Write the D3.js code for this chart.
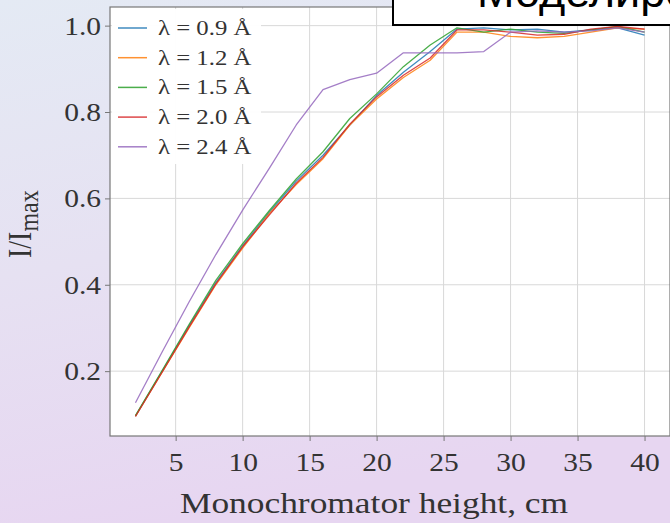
<!DOCTYPE html>
<html>
<head>
<meta charset="utf-8">
<script src="https://cdn.jsdelivr.net/npm/d3@7"></script>
<style>
  html, body { margin: 0; padding: 0; overflow: hidden; }
  svg { display: block; }
</style>
</head>
<body>
<div id="chart"></div>
<script>
// ---------------- data ----------------
const heights = [2, 4, 6, 8, 10, 12, 14, 16, 18, 20, 22, 24, 26, 28, 30, 32, 34, 36, 38, 40];
const seriesLabels = ["λ = 0.9 Å", "λ = 1.2 Å", "λ = 1.5 Å", "λ = 2.0 Å", "λ = 2.4 Å"];
const seriesColors = ["#1f77b4", "#ff7f0e", "#2ca02c", "#d62728", "#9467bd"];
const lambda09 = [0.096, 0.200, 0.305, 0.405, 0.490, 0.568, 0.640, 0.700, 0.770, 0.838, 0.892, 0.940, 0.992, 0.995, 0.990, 0.992, 0.985, 0.990, 0.995, 0.978];
const lambda12 = [0.096, 0.198, 0.300, 0.400, 0.485, 0.565, 0.632, 0.692, 0.770, 0.830, 0.880, 0.920, 0.985, 0.985, 0.975, 0.972, 0.975, 0.985, 0.995, 0.992];
const lambda15 = [0.097, 0.202, 0.308, 0.410, 0.495, 0.572, 0.645, 0.708, 0.785, 0.842, 0.905, 0.955, 0.995, 0.985, 0.992, 0.985, 0.982, 0.990, 0.998, 0.985];
const lambda20 = [0.095, 0.198, 0.302, 0.402, 0.488, 0.562, 0.635, 0.695, 0.772, 0.835, 0.885, 0.925, 0.990, 0.990, 0.985, 0.978, 0.980, 0.992, 0.998, 0.992];
const lambda24 = [0.127, 0.245, 0.360, 0.470, 0.573, 0.670, 0.770, 0.852, 0.875, 0.890, 0.937, 0.937, 0.937, 0.940, 0.985, 0.988, 0.985, 0.988, 0.995, 0.985];
const xTicks = [5, 10, 15, 20, 25, 30, 35, 40];
const yTicks = [0.2, 0.4, 0.6, 0.8, 1.0];
const xLabel = "Monochromator height, cm";
const titleText = "Моделирование";

const allSeries = [lambda09, lambda12, lambda15, lambda20, lambda24];

// ---------------- layout ----------------
const W = 670, H = 523;
const plot = { left: 110, right: 670, top: 7, bottom: 436 };
const SX = 1.18; // horizontal stretch of the source image

const svg = d3.select("#chart").append("svg")
  .attr("width", W).attr("height", H);

const defs = svg.append("defs");
const grad = defs.append("linearGradient").attr("id", "bg")
  .attr("x1", "0").attr("y1", "0").attr("x2", "0.25").attr("y2", "1");
grad.append("stop").attr("offset", "0").attr("stop-color", "#e4eaf4");
grad.append("stop").attr("offset", "0.5").attr("stop-color", "#e6e1f2");
grad.append("stop").attr("offset", "1").attr("stop-color", "#e7d6f1");
svg.append("rect").attr("width", W).attr("height", H).attr("fill", "url(#bg)");

// scales with matplotlib-like 5% margins
function padded(ext) { const r = ext[1] - ext[0]; return [ext[0] - 0.05 * r, ext[1] + 0.05 * r]; }
const xDom = padded(d3.extent(heights));
const yDom = padded(d3.extent(allSeries.flat()));
const x = d3.scaleLinear().domain(xDom).range([plot.left, plot.right]);
const y = d3.scaleLinear().domain(yDom).range([plot.bottom, plot.top]);

// plot background
svg.append("rect").attr("x", plot.left).attr("y", plot.top)
  .attr("width", plot.right - plot.left).attr("height", plot.bottom - plot.top)
  .attr("fill", "#ffffff");

// grid
const grid = svg.append("g");
grid.selectAll("line.gx").data(xTicks).join("line")
  .attr("x1", d => x(d)).attr("x2", d => x(d))
  .attr("y1", plot.top).attr("y2", plot.bottom)
  .attr("stroke", "#d8d8d8").attr("stroke-width", 1);
grid.selectAll("line.gy").data(yTicks).join("line")
  .attr("y1", d => y(d)).attr("y2", d => y(d))
  .attr("x1", plot.left).attr("x2", plot.right)
  .attr("stroke", "#d8d8d8").attr("stroke-width", 1);

// lines
const line = d3.line().x((d, i) => x(heights[i])).y(d => y(d));
svg.append("g").selectAll("path").data(allSeries).join("path")
  .attr("d", d => line(d))
  .attr("fill", "none")
  .attr("stroke", (d, i) => seriesColors[i])
  .attr("stroke-width", 1.3)
  .attr("stroke-opacity", 0.85)
  .attr("stroke-linejoin", "round");

// spines
svg.append("rect").attr("x", plot.left).attr("y", plot.top)
  .attr("width", plot.right - plot.left).attr("height", plot.bottom - plot.top)
  .attr("fill", "none").attr("stroke", "#777").attr("stroke-width", 1.2);

// axes
const fontSerif = "'Liberation Serif', 'Times New Roman', serif";
const xAxis = svg.append("g").attr("transform", `translate(0,${plot.bottom})`)
  .call(d3.axisBottom(x).tickValues(xTicks).tickSize(5).tickPadding(6).tickFormat(d3.format("d")));
const yAxis = svg.append("g").attr("transform", `translate(${plot.left},0)`)
  .call(d3.axisLeft(y).tickValues(yTicks).tickSize(5).tickPadding(5).tickFormat(d3.format(".1f")));
[xAxis, yAxis].forEach(a => {
  a.select(".domain").remove();
  a.selectAll(".tick line").attr("stroke", "#777");
  a.selectAll(".tick text")
    .attr("fill", "#333")
    .style("font-family", fontSerif)
    .style("font-size", "25px")
    .attr("transform", `scale(${SX},1)`);
});
xAxis.selectAll(".tick text").attr("dy", "0.95em");
yAxis.selectAll(".tick text").attr("x", -9 / SX).attr("dy", "0.34em");

// axis labels
svg.append("text")
  .attr("transform", `translate(${(plot.left + plot.right) / 2 - 16},513) scale(${SX},1)`)
  .attr("text-anchor", "middle")
  .style("font-family", fontSerif).style("font-size", "30px").attr("fill", "#333")
  .text(xLabel);

const yl = svg.append("text")
  .attr("transform", `translate(31,258) rotate(-90) scale(1,${SX})`)
  .attr("text-anchor", "start")
  .style("font-family", fontSerif).style("font-size", "28px").attr("fill", "#333");
yl.append("tspan").text("I/I");
yl.append("tspan").attr("dy", 6).style("font-size", "24px").text("max");

// legend
const lg = svg.append("g");
lg.append("rect").attr("x", 112).attr("y", 9).attr("width", 149).attr("height", 155)
  .attr("fill", "#ffffff").attr("fill-opacity", 0.95);
const rowY = i => 28 + i * 29.7;
seriesLabels.forEach((lab, i) => {
  lg.append("line").attr("x1", 118).attr("x2", 147)
    .attr("y1", rowY(i)).attr("y2", rowY(i))
    .attr("stroke", seriesColors[i]).attr("stroke-width", 1.5).attr("stroke-opacity", 0.85);
  lg.append("text")
    .attr("transform", `translate(158,${rowY(i) + 7}) scale(${SX},1)`)
    .style("font-family", fontSerif).style("font-size", "21px").attr("fill", "#333")
    .text(lab);
});

// title box (cut-off slide heading)
svg.append("rect").attr("x", 393).attr("y", -10).attr("width", 300).attr("height", 35)
  .attr("fill", "#ffffff").attr("stroke", "#000").attr("stroke-width", 2);
svg.append("text").attr("x", 477).attr("y", 7)
  .style("font-family", "'Liberation Sans', Arial, sans-serif").style("font-size", "45px")
  .attr("fill", "#000").text(titleText);
</script>
</body>
</html>
